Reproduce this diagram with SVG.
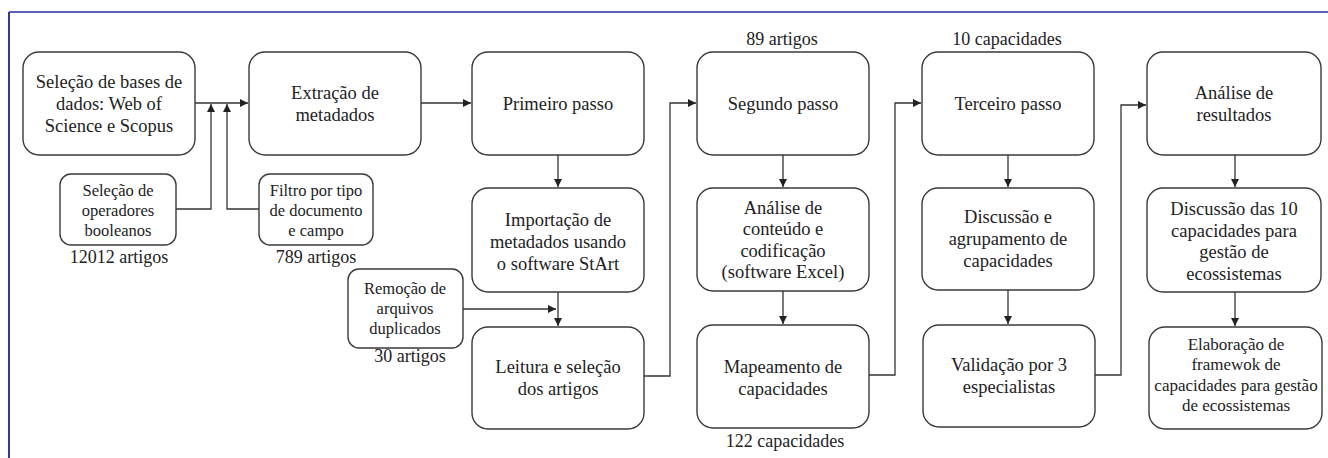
<svg xmlns="http://www.w3.org/2000/svg" width="1328" height="458" viewBox="0 0 1328 458" font-family="Liberation Serif, Tinos, Times New Roman, Times, DejaVu Serif, serif">
<style>
.box{fill:#fff;stroke:#3a3a3a;stroke-width:1.4}
.t{font-size:18.5px;fill:#222;text-anchor:middle}
.s{font-size:16.5px}
.e{font-size:17px}
.lbl{font-size:18px;fill:#222;text-anchor:middle}
.c{fill:none;stroke:#333;stroke-width:1.3}
</style>
<defs>
<marker id="ah" viewBox="0 0 10 10" refX="10" refY="5" markerWidth="9" markerHeight="8" markerUnits="userSpaceOnUse" orient="auto">
<path d="M0,0 L10,5 L0,10 Z" fill="#222"/>
</marker>
</defs>
<rect width="1328" height="458" fill="#fff"/>
<line x1="9" y1="12" x2="1328" y2="12" stroke="#5a64b4" stroke-width="2"/>
<line x1="9" y1="12" x2="9" y2="458" stroke="#2e3a9c" stroke-width="2"/>

<g id="connectors">
<path class="c" d="M195,103 H248" marker-end="url(#ah)"/>
<path class="c" d="M176,209 H211 V104" marker-end="url(#ah)"/>
<path class="c" d="M259,209 H227 V104" marker-end="url(#ah)"/>
<path class="c" d="M421,103 H471" marker-end="url(#ah)"/>
<path class="c" d="M558,155 V187" marker-end="url(#ah)"/>
<path class="c" d="M558,292 V326" marker-end="url(#ah)"/>
<path class="c" d="M463,309 H556" marker-end="url(#ah)"/>
<path class="c" d="M644,376 H670 V103 H696" marker-end="url(#ah)"/>
<path class="c" d="M783,155 V187" marker-end="url(#ah)"/>
<path class="c" d="M783,291 V324" marker-end="url(#ah)"/>
<path class="c" d="M869,375 H895 V103 H921" marker-end="url(#ah)"/>
<path class="c" d="M1008,155 V187" marker-end="url(#ah)"/>
<path class="c" d="M1008,290 V324" marker-end="url(#ah)"/>
<path class="c" d="M1095,375 H1121 V105 H1146" marker-end="url(#ah)"/>
<path class="c" d="M1235,155 V187" marker-end="url(#ah)"/>
<path class="c" d="M1235,292 V326" marker-end="url(#ah)"/>
</g>

<g id="n-bases">
<rect class="box" x="23" y="52" width="172" height="103" rx="16"/>
<text class="t" x="109" y="88">Seleção de bases de</text>
<text class="t" x="109" y="110">dados: Web of</text>
<text class="t" x="109" y="132">Science e Scopus</text>
</g>
<g id="n-operadores">
<rect class="box" x="60" y="174" width="116" height="71" rx="11"/>
<text class="t s" x="118" y="196">Seleção de</text>
<text class="t s" x="118" y="216">operadores</text>
<text class="t s" x="118" y="236">booleanos</text>
<text class="lbl" x="119" y="263">12012 artigos</text>
</g>
<g id="n-filtro">
<rect class="box" x="259" y="174" width="114" height="71" rx="11"/>
<text class="t s" x="316" y="196">Filtro por tipo</text>
<text class="t s" x="316" y="216">de documento</text>
<text class="t s" x="316" y="236">e campo</text>
<text class="lbl" x="316" y="263">789 artigos</text>
</g>
<g id="n-extracao">
<rect class="box" x="249" y="52" width="172" height="103" rx="16"/>
<text class="t" x="335" y="99">Extração de</text>
<text class="t" x="335" y="121">metadados</text>
</g>
<g id="n-remocao">
<rect class="box" x="348" y="269" width="115" height="79" rx="11"/>
<text class="t s" x="405" y="294">Remoção de</text>
<text class="t s" x="405" y="314">arquivos</text>
<text class="t s" x="405" y="334">duplicados</text>
<text class="lbl" x="410" y="362">30 artigos</text>
</g>
<g id="n-primeiro">
<rect class="box" x="472" y="52" width="172" height="103" rx="16"/>
<text class="t" x="558" y="110">Primeiro passo</text>
</g>
<g id="n-importacao">
<rect class="box" x="472" y="188" width="172" height="104" rx="16"/>
<text class="t" x="558" y="226">Importação de</text>
<text class="t" x="558" y="248">metadados usando</text>
<text class="t" x="558" y="270">o software StArt</text>
</g>
<g id="n-leitura">
<rect class="box" x="472" y="327" width="172" height="102" rx="16"/>
<text class="t" x="558" y="373">Leitura e seleção</text>
<text class="t" x="558" y="395">dos artigos</text>
</g>
<g id="n-segundo">
<text class="lbl" x="782" y="45">89 artigos</text>
<rect class="box" x="697" y="52" width="172" height="103" rx="16"/>
<text class="t" x="783" y="110">Segundo passo</text>
</g>
<g id="n-analise">
<rect class="box" x="697" y="188" width="172" height="103" rx="16"/>
<text class="t" x="783" y="214">Análise de</text>
<text class="t" x="783" y="235">conteúdo e</text>
<text class="t" x="783" y="257">codificação</text>
<text class="t" x="783" y="278">(software Excel)</text>
</g>
<g id="n-mapeamento">
<rect class="box" x="697" y="325" width="172" height="103" rx="16"/>
<text class="t" x="783" y="373">Mapeamento de</text>
<text class="t" x="783" y="395">capacidades</text>
<text class="lbl" x="785" y="447">122 capacidades</text>
</g>
<g id="n-terceiro">
<text class="lbl" x="1007" y="45">10 capacidades</text>
<rect class="box" x="922" y="52" width="172" height="103" rx="16"/>
<text class="t" x="1008" y="110">Terceiro passo</text>
</g>
<g id="n-discussao">
<rect class="box" x="922" y="188" width="172" height="102" rx="16"/>
<text class="t" x="1008" y="223">Discussão e</text>
<text class="t" x="1008" y="245">agrupamento de</text>
<text class="t" x="1008" y="267">capacidades</text>
</g>
<g id="n-validacao">
<rect class="box" x="923" y="325" width="172" height="102" rx="16"/>
<text class="t" x="1009" y="371">Validação por 3</text>
<text class="t" x="1009" y="393">especialistas</text>
</g>
<g id="n-resultados">
<rect class="box" x="1147" y="52" width="174" height="103" rx="16"/>
<text class="t" x="1234" y="99">Análise de</text>
<text class="t" x="1234" y="121">resultados</text>
</g>
<g id="n-discussao10">
<rect class="box" x="1147" y="188" width="174" height="104" rx="16"/>
<text class="t" x="1234" y="215">Discussão das 10</text>
<text class="t" x="1234" y="237">capacidades para</text>
<text class="t" x="1234" y="258">gestão de</text>
<text class="t" x="1234" y="280">ecossistemas</text>
</g>
<g id="n-elaboracao">
<rect class="box" x="1149" y="327" width="173" height="102" rx="16"/>
<text class="t e" x="1236" y="350">Elaboração de</text>
<text class="t e" x="1236" y="370">framewok de</text>
<text class="t e" x="1236" y="391">capacidades para gestão</text>
<text class="t e" x="1236" y="411">de ecossistemas</text>
</g>
</svg>
